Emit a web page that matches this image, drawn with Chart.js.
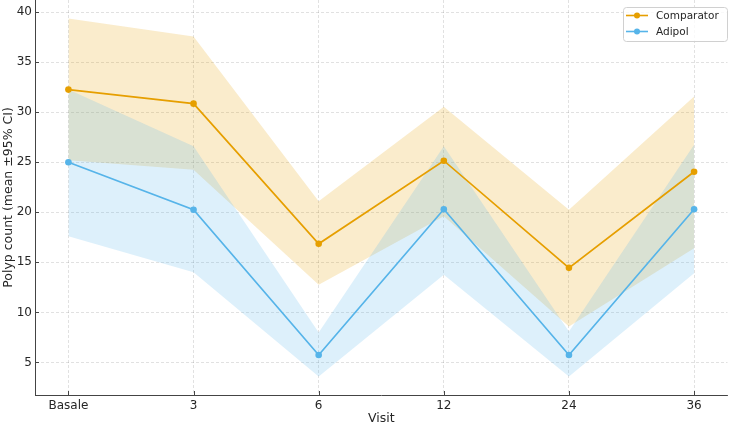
<!DOCTYPE html>
<html><head><meta charset="utf-8">
<script src="https://cdn.jsdelivr.net/npm/chart.js@4.4.0/dist/chart.umd.min.js"></script>
<style>html,body{margin:0;padding:0;background:#fff;}#wrap{width:729px;height:426px;position:relative;}</style>
</head><body><div id="wrap"><canvas id="c"></canvas></div>
<script>
const visits = ['Basale', '3', '6', '12', '24', '36'];
const comparatorMean  = [32.25, 30.85, 16.85, 25.15, 14.45, 24.05];
const comparatorUpper = [39.35, 37.55, 21.1, 30.55, 20.25, 31.55];
const comparatorLower = [25.2, 24.25, 12.75, 19.6, 8.6, 16.4];
const adipolMean  = [25.0, 20.25, 5.75, 20.3, 5.75, 20.3];
const adipolUpper = [32.25, 26.6, 8.0, 26.6, 8.1, 26.75];
const adipolLower = [17.6, 14.0, 3.6, 13.75, 3.6, 13.9];
const yTicks = [5, 10, 15, 20, 25, 30, 35, 40];
const seriesNames = ['Comparator', 'Adipol'];

const ORANGE = '#E69F00', BLUE = '#56B4E9';
const pts = arr => arr.map((v, i) => ({x: i, y: v}));

Chart.defaults.font.family = "'DejaVu Sans', sans-serif";
Chart.defaults.color = '#262626';

const band = (data, fillTo, bg) => ({
  data: pts(data), borderWidth: 0, pointRadius: 0, fill: fillTo,
  backgroundColor: bg, borderColor: 'rgba(0,0,0,0)', order: 5
});

const legendPlugin = {
  id: 'mplLegend',
  afterDraw(chart) {
    const ctx = chart.ctx;
    const x0 = 623, y0 = 7, w = 104, h = 34;
    ctx.save();
    ctx.beginPath();
    if (ctx.roundRect) ctx.roundRect(x0 + 0.5, y0 + 0.5, w, h, 3); else ctx.rect(x0 + 0.5, y0 + 0.5, w, h);
    ctx.fillStyle = 'rgba(255,255,255,0.8)';
    ctx.fill();
    ctx.strokeStyle = '#d0d0d0';
    ctx.lineWidth = 1;
    ctx.stroke();
    const entries = [[seriesNames[0], ORANGE], [seriesNames[1], BLUE]];
    entries.forEach((e, k) => {
      const cy = 15.5 + k * 16;
      ctx.strokeStyle = e[1]; ctx.lineWidth = 1.6;
      ctx.beginPath(); ctx.moveTo(626, cy); ctx.lineTo(648, cy); ctx.stroke();
      ctx.fillStyle = e[1];
      ctx.beginPath(); ctx.arc(637, cy, 3, 0, Math.PI * 2); ctx.fill();
      ctx.fillStyle = '#262626';
      ctx.font = "10.5px 'DejaVu Sans', sans-serif";
      ctx.textBaseline = 'middle';
      ctx.textAlign = 'left';
      ctx.fillText(e[0], 656, cy + 0.5);
    });
    ctx.restore();
  }
};

const tickPlugin = {
  id: 'inTicks',
  afterDatasetsDraw(chart) {
    const ctx = chart.ctx, ca = chart.chartArea;
    const xs = chart.scales.x, ys = chart.scales.y;
    ctx.save();
    ctx.strokeStyle = '#444'; ctx.lineWidth = 1;
    xs.ticks.forEach(t => {
      const px = Math.round(xs.getPixelForValue(t.value)) + 0.5;
      ctx.beginPath(); ctx.moveTo(px, ca.bottom); ctx.lineTo(px, ca.bottom - 4); ctx.stroke();
    });
    ys.ticks.forEach(t => {
      const py = Math.round(ys.getPixelForValue(t.value)) + 0.5;
      ctx.beginPath(); ctx.moveTo(ca.left, py); ctx.lineTo(ca.left + 4, py); ctx.stroke();
    });
    ctx.restore();
  }
};

const gridCfg = {color: 'rgba(0,0,0,0.15)', lineWidth: 0.8, drawTicks: false};

new Chart(document.getElementById('c'), {
  type: 'line',
  data: {
    datasets: [
      band(adipolUpper, 1, 'rgba(86,180,233,0.2)'),
      band(adipolLower, false, 'rgba(0,0,0,0)'),
      band(comparatorUpper, 3, 'rgba(230,159,0,0.2)'),
      band(comparatorLower, false, 'rgba(0,0,0,0)'),
      {label: seriesNames[0], data: pts(comparatorMean), borderColor: ORANGE, backgroundColor: ORANGE,
       borderWidth: 1.7, pointRadius: 3.3, pointBorderWidth: 0, fill: false, order: 1},
      {label: seriesNames[1], data: pts(adipolMean), borderColor: BLUE, backgroundColor: BLUE,
       borderWidth: 1.7, pointRadius: 3.3, pointBorderWidth: 0, fill: false, order: 0}
    ]
  },
  options: {
    responsive: true, maintainAspectRatio: false, animation: false,
    layout: {autoPadding: false, padding: {left: 0, right: 1.5, top: 0, bottom: 0}},
    plugins: {legend: {display: false}, tooltip: {enabled: false}, filler: {drawTime: 'beforeDatasetsDraw'}},
    scales: {
      x: {
        type: 'linear', min: -0.267, max: 5.267,
        afterBuildTicks: s => { s.ticks = visits.map((v, i) => ({value: i})); },
        afterFit: s => { s.height = 31; s.paddingLeft = 0; s.paddingRight = 0; },
        ticks: {callback: v => visits[v], font: {size: 12}, padding: 4, maxRotation: 0, autoSkip: false},
        grid: gridCfg,
        border: {display: true, color: '#444', width: 1, dash: [3, 2]},
        title: {display: true, text: 'Visit', font: {size: 12.5}, padding: {top: 0, bottom: 0}}
      },
      y: {
        type: 'linear', min: 1.75, max: 41.2,
        afterBuildTicks: s => { s.ticks = yTicks.map(v => ({value: v})); },
        afterFit: s => { s.width = 35; s.paddingTop = 0; s.paddingBottom = 0; },
        ticks: {font: {size: 12}, padding: 3},
        grid: gridCfg,
        border: {display: true, color: '#444', width: 1, dash: [3, 2]},
        title: {display: true, text: 'Polyp count (mean ±95% CI)', font: {size: 12.5}, padding: {top: 1, bottom: 0}}
      }
    }
  },
  plugins: [tickPlugin, legendPlugin]
});
</script></body></html>
